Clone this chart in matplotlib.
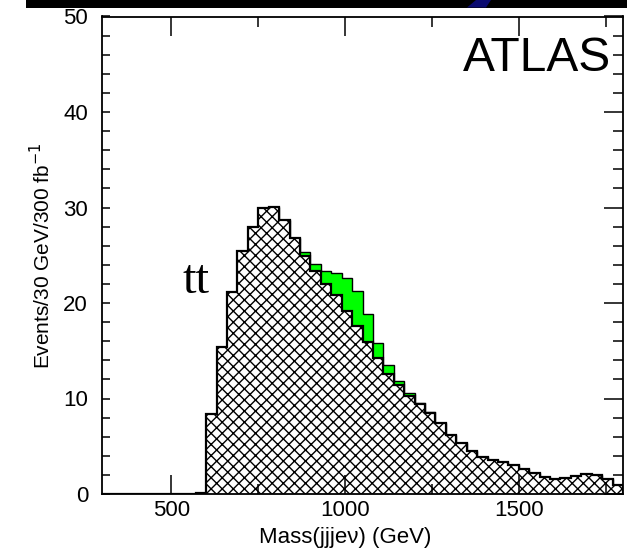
import matplotlib
matplotlib.use("Agg")
import matplotlib.pyplot as plt
import numpy as np
from matplotlib.patches import Rectangle, Polygon
from matplotlib.ticker import MultipleLocator

# ---- data ----
bin_edges = list(range(300, 1801, 30))  # 30 GeV bins
ttbar = [0, 0, 0, 0, 0, 0, 0, 0, 0,
         0.15, 8.4, 15.4, 21.1, 25.4, 28.0, 29.9, 30.1, 28.7, 26.8,
         24.9, 23.4, 22.0, 20.8, 19.2, 17.6, 15.9, 14.2, 12.6, 11.4,
         10.3, 9.4, 8.5, 7.4, 6.2, 5.3, 4.5, 3.9, 3.6, 3.3,
         3.0, 2.6, 2.2, 1.8, 1.6, 1.7, 1.9, 2.1, 2.0, 1.6, 0.9]
signal = [0, 0, 0, 0, 0, 0, 0, 0, 0,
          0, 0, 0, 0, 0, 0, 0, 0, 0, 0,
          0.4, 0.7, 1.3, 2.3, 3.4, 3.7, 3.0, 1.6, 0.9, 0.4,
          0.3, 0.1, 0.05, 0, 0, 0, 0, 0, 0, 0,
          0, 0, 0, 0, 0, 0, 0, 0, 0, 0, 0]
x_ticks = [500, 1000, 1500]
y_ticks = [0, 10, 20, 30, 40, 50]

plt.rcParams['font.family'] = ['Liberation Sans', 'DejaVu Sans']
plt.rcParams['hatch.color'] = 'black'
plt.rcParams['hatch.linewidth'] = 1.0

W, H = 627, 550
fig = plt.figure(figsize=(W / 100, H / 100), dpi=100)
L, R, B, T = 102, 623, 494, 16.5
ax = fig.add_axes([L / W, 1 - B / H, (R - L) / W, (B - T) / H])

edges = np.array(bin_edges, dtype=float)
tt = np.array(ttbar)
tot = tt + np.array(signal)

# total (signal on top of ttbar) in green
ax.stairs(tot, edges, fill=True, facecolor='#00ff00', edgecolor='none', zorder=1)
ax.stairs(tot, edges, fill=False, color='black', linewidth=1.0, zorder=1.1)
# ttbar hatched
ax.stairs(tt, edges, fill=True, facecolor='white', edgecolor='black',
          hatch='xxx', linewidth=0, zorder=1.2)
ax.stairs(tt, edges, fill=False, color='black', linewidth=1.6, zorder=1.3)

ax.set_xlim(300, 1800)
ax.set_ylim(0, 50)
ax.set_xticks(x_ticks)
ax.set_yticks(y_ticks)
ax.xaxis.set_minor_locator(MultipleLocator(250))
ax.yaxis.set_minor_locator(MultipleLocator(2))
ax.tick_params(axis='x', which='both', direction='in', top=True, bottom=True,
               labelsize=16, pad=4, width=1.1)
ax.tick_params(axis='x', which='major', length=14)
ax.tick_params(axis='x', which='minor', length=7)
ax.tick_params(axis='y', which='both', direction='in', left=True, right=False,
               labelsize=16, pad=10, width=1.1, length=6)
for s in ax.spines.values():
    s.set_linewidth(1.3)

ax2 = ax.twinx()
ax2.set_ylim(0, 50)
ax2.set_yticks(y_ticks)
ax2.yaxis.set_minor_locator(MultipleLocator(2))
ax2.tick_params(axis='y', which='both', direction='in', labelright=False, width=1.1)
ax2.tick_params(axis='y', which='major', length=14)
ax2.tick_params(axis='y', which='minor', length=7)
for s in ax2.spines.values():
    s.set_visible(False)

ax.set_xlabel('Mass(jjje\u03bd) (GeV)', fontsize=16)
ax.xaxis.set_label_coords((1000 - 300) / 1500, -0.069)
ax.set_ylabel(r'Events/30 GeV/300 fb$^{-1}$', fontsize=15)
ax.yaxis.set_label_coords(-0.092, 0.5)

ax.text(1765, 44.3, 'ATLAS', fontsize=34.5, ha='right', va='baseline')
ax.text(533, 21.0, 'tt', fontsize=35, ha='left', va='baseline',
        family=['Liberation Serif', 'DejaVu Serif'])

# top decoration band
fig.patches.append(Rectangle((26 / W, 1 - 7.5 / H), 1 - 26 / W, 7.5 / H,
                             transform=fig.transFigure, facecolor='black',
                             edgecolor='none', zorder=5))
poly = [(467 / W, 1 - 7.5 / H), (486 / W, 1 - 7.5 / H),
        (491 / W, 1.0), (476 / W, 1.0)]
fig.patches.append(Polygon(poly, closed=True, transform=fig.transFigure,
                           facecolor='#0a0a70', edgecolor='none', zorder=6))

fig.savefig('out.png', dpi=100)
